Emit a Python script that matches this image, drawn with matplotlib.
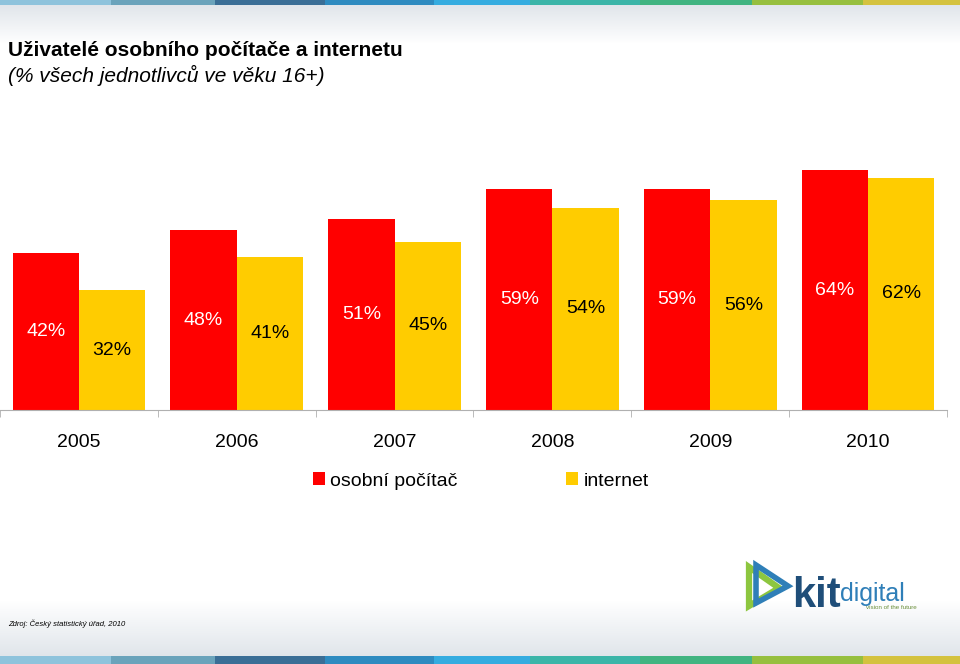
import numpy as np
import matplotlib
matplotlib.use("Agg")
import matplotlib.pyplot as plt
from matplotlib import font_manager
from matplotlib.patches import Rectangle, Polygon

# look for a narrow Arial-like face, the reference uses one
narrow = None
for f in sorted(font_manager.findSystemFonts()):
    name = f.lower()
    if "liberationsansnarrow-regular" in name.replace(" ", "").replace("_", ""):
        narrow = f
        break
if narrow:
    font_manager.fontManager.addfont(narrow)
    NARROW = font_manager.FontProperties(fname=narrow).get_name()
    fams = [NARROW, 'Liberation Sans', 'DejaVu Sans']
    num_size = 15
else:
    fams = ['Liberation Sans', 'DejaVu Sans']
    num_size = 14
plt.rcParams['font.family'] = fams

years = ["2005", "2006", "2007", "2008", "2009", "2010"]
pc = [42, 48, 51, 59, 59, 64]
internet = [32, 41, 45, 54, 56, 62]

stripe_colors = ["#8ec3dc", "#6aa3bb", "#3a6e96", "#2e8bc0", "#35ace0",
                 "#3bb5a8", "#41b481", "#96bf3f", "#d4c23f"]
stripe_edges = [0, 111, 215, 325, 434, 530, 640, 752, 863, 960]

RED = "#ff0000"
YELLOW = "#ffcc00"

fig = plt.figure(figsize=(9.6, 6.64), dpi=100)

# background: white with light grey fades at top and bottom
bg = fig.add_axes([0, 0, 1, 1], zorder=-10)
bg.set_xlim(0, 960)
bg.set_ylim(664, 0)
bg.axis("off")
rows = np.arange(664)
t_top = np.clip(1 - (rows - 5) / 38.0, 0, 1)
t_bot = np.clip(1 - (655 - rows) / 55.0, 0, 1)
t = np.maximum(t_top, t_bot)
r = 1 - 0.12 * t
g = 1 - 0.10 * t
b = 1 - 0.08 * t
img = np.dstack([r, g, b]).reshape(664, 1, 3)
bg.imshow(img, extent=[0, 960, 664, 0], aspect="auto")
for i in range(len(stripe_colors)):
    x0, x1 = stripe_edges[i], stripe_edges[i + 1]
    bg.add_patch(Rectangle((x0, 0), x1 - x0, 5, color=stripe_colors[i], lw=0))
    bg.add_patch(Rectangle((x0, 656), x1 - x0, 8, color=stripe_colors[i], lw=0))

# logo
bg.add_patch(Polygon([[749, 567], [749, 606], [779, 588]], closed=True,
                     facecolor="none", edgecolor="#8dc63f", lw=4.5))
bg.add_patch(Polygon([[756, 565], [788, 586], [756, 603]], closed=True,
                     facecolor="none", edgecolor="#2f7fb8", lw=4))
bg.text(792, 607, "kit", fontsize=30, fontweight="bold", color="#1f4e79",
        family=["Liberation Sans", "DejaVu Sans"])
bg.text(840, 601, "digital", fontsize=18, color="#2f7fb8", family=fams)
bg.text(866, 609, "vision of the future", fontsize=4.5, color="#6a8f3a",
        family=["Liberation Sans", "DejaVu Sans"])

# titles
fig.text(8 / 960, 1 - 50 / 664, "Uživatelé osobního počítače a internetu",
         fontsize=15, fontweight="bold", va="center",
         family=["Liberation Sans", "DejaVu Sans"])
fig.text(8 / 960, 1 - 75 / 664, "(% všech jednotlivců ve věku 16+)",
         fontsize=15, style="italic", va="center",
         family=["Liberation Sans", "DejaVu Sans"])
fig.text(8 / 960, 1 - 624 / 664, "Zdroj: Český statistický úřad, 2010",
         fontsize=6.5 if narrow else 5.5, style="italic", va="center")

# chart
ax = fig.add_axes([0, (664 - 410) / 664, 947 / 960, (410 - 148) / 664])
ax.patch.set_alpha(0)
x = np.arange(len(years))
w = 0.42
b1 = ax.bar(x - w / 2, pc, w, color=RED, label="osobní počítač")
b2 = ax.bar(x + w / 2, internet, w, color=YELLOW, label="internet")
for rect, v in zip(b1, pc):
    ax.text(rect.get_x() + rect.get_width() / 2, v / 2, f"{v}%",
            ha="center", va="center", color="white", fontsize=num_size)
for rect, v in zip(b2, internet):
    ax.text(rect.get_x() + rect.get_width() / 2, v / 2, f"{v}%",
            ha="center", va="center", color="black", fontsize=num_size)

ax.set_xlim(-0.5, len(years) - 0.5)
ax.set_ylim(0, 70)
ax.set_yticks([])
ax.set_xticks(x)
ax.set_xticklabels(years, fontsize=num_size)
ax.tick_params(axis="x", which="major", length=0, pad=17)
ax.set_xticks(np.arange(-0.5, len(years)), minor=True)
ax.tick_params(axis="x", which="minor", length=5, color="#b0b0b0")
for s in ["top", "right", "left"]:
    ax.spines[s].set_visible(False)
ax.spines["bottom"].set_color("#b0b0b0")

leg1 = fig.legend(handles=[b1], loc="center left", bbox_to_anchor=(313 / 960, 1 - 481 / 664),
                  frameon=False, fontsize=num_size, handlelength=0.6, handleheight=0.6,
                  handletextpad=0.3, borderaxespad=0, borderpad=0)
leg2 = fig.legend(handles=[b2], loc="center left", bbox_to_anchor=(566 / 960, 1 - 481 / 664),
                  frameon=False, fontsize=num_size, handlelength=0.6, handleheight=0.6,
                  handletextpad=0.3, borderaxespad=0, borderpad=0)

fig.savefig("out.png", dpi=100)
